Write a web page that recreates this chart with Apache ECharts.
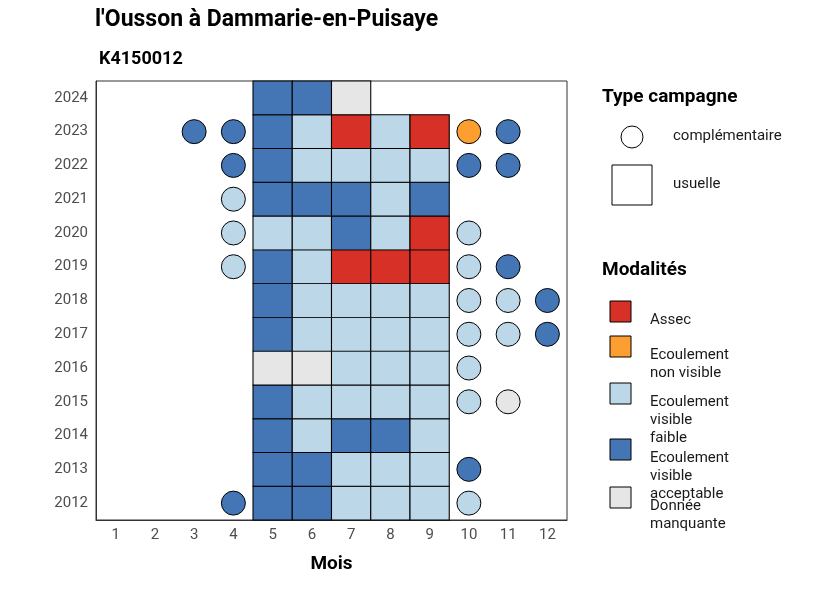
<!DOCTYPE html>
<html><head><meta charset="utf-8">
<script src="https://cdn.jsdelivr.net/npm/echarts@6/dist/echarts.min.js"></script>
<style>html,body{margin:0;background:#fff}#c{width:826px;height:590px}</style>
</head><body><div id="c"></div>
<script>
var months = ['1','2','3','4','5','6','7','8','9','10','11','12'];
var years = ['2012','2013','2014','2015','2016','2017','2018','2019','2020','2021','2022','2023','2024'];
// codes: S = Assec, N = Ecoulement non visible, F = faible, A = acceptable, M = manquante
// campagne usuelle, months 5..9, one row per year (2012 -> 2024)
var usuelleRows = [
    ['A','A','F','F','F'],
    ['A','A','F','F','F'],
    ['A','F','A','A','F'],
    ['A','F','F','F','F'],
    ['M','M','F','F','F'],
    ['A','F','F','F','F'],
    ['A','F','F','F','F'],
    ['A','F','S','S','S'],
    ['F','F','A','F','S'],
    ['A','A','A','F','A'],
    ['A','F','F','F','F'],
    ['A','F','S','F','S'],
    ['A','A','M',null,null]
];
// campagne complémentaire: [month, year, code]
var complementaire = [
    [4,2012,'A'],[10,2012,'F'],
    [10,2013,'A'],
    [10,2015,'F'],[11,2015,'M'],
    [10,2016,'F'],
    [10,2017,'F'],[11,2017,'F'],[12,2017,'A'],
    [10,2018,'F'],[11,2018,'F'],[12,2018,'A'],
    [4,2019,'F'],[10,2019,'F'],[11,2019,'A'],
    [4,2020,'F'],[10,2020,'F'],
    [4,2021,'F'],
    [4,2022,'A'],[10,2022,'A'],[11,2022,'A'],
    [3,2023,'A'],[4,2023,'A'],[10,2023,'N'],[11,2023,'A']
];
var modalites = ['Assec', 'Ecoulement\nnon visible', 'Ecoulement\nvisible\nfaible', 'Ecoulement\nvisible\nacceptable', 'Donnée\nmanquante'];
var codes = ['S','N','F','A','M'];
var colors = {S:'#d73027', N:'#fd9f30', F:'#bcd7e8', A:'#4475b5', M:'#e6e6e6'};

var tiles = [];
usuelleRows.forEach(function (row, i) {
    row.forEach(function (c, j) {
        if (c) tiles.push({value:[String(j + 5), years[i]], itemStyle:{color:colors[c]}});
    });
});
var dots = complementaire.map(function (d) {
    return {value:[String(d[0]), String(d[1])], itemStyle:{color:colors[d[2]]}};
});

var cw = 471 / 12, ch = 439 / 13;
var graphics = [
    {type:'text', left:602, top:88, style:{text:'Type campagne', font:'bold 19px Roboto', fill:'#000'}},
    {type:'circle', shape:{cx:632, cy:137, r:11}, style:{fill:'#fff', stroke:'#000', lineWidth:1}},
    {type:'text', left:673, top:129, style:{text:'complémentaire', font:'15px Roboto', fill:'#1a1a1a'}},
    {type:'rect', shape:{x:612, y:165, width:40, height:40}, style:{fill:'#fff', stroke:'#000', lineWidth:1}},
    {type:'text', left:673, top:177, style:{text:'usuelle', font:'15px Roboto', fill:'#1a1a1a'}},
    {type:'text', left:602, top:261, style:{text:'Modalités', font:'bold 19px Roboto', fill:'#000'}}
];
var ys = [311, 346, 393, 449, 497];
codes.forEach(function (c, i) {
    graphics.push({type:'rect', shape:{x:610, y:ys[i] - 10, width:21, height:21}, style:{fill:colors[c], stroke:'#000', lineWidth:1}});
    graphics.push({type:'text', left:650, top:ys[i], style:{text:modalites[i], font:'15px Roboto', fill:'#1a1a1a', lineHeight:18, verticalAlign:'middle'}});
});

var chart = echarts.init(document.getElementById('c'));
chart.setOption({
    animation:false,
    title:[
        {text:"l'Ousson à Dammarie-en-Puisaye", left:90, top:4, textStyle:{fontFamily:'Roboto', fontSize:23, fontWeight:'bold', color:'#000'}},
        {text:'K4150012', left:94, top:45, textStyle:{fontFamily:'Roboto', fontSize:18, fontWeight:'bold', color:'#000'}}
    ],
    grid:{left:96, right:259, top:81, bottom:70, show:true, borderColor:'#333', borderWidth:1},
    xAxis:{type:'category', data:months, name:'Mois', nameLocation:'middle', nameGap:35,
        nameTextStyle:{fontFamily:'Roboto', fontSize:19, fontWeight:'bold', color:'#000'},
        axisLine:{lineStyle:{color:'#333'}}, axisTick:{alignWithLabel:true, length:4, lineStyle:{color:'#333'}},
        axisLabel:{fontFamily:'Roboto', fontSize:15, color:'#4d4d4d'}, splitLine:{show:false}},
    yAxis:{type:'category', data:years,
        axisLine:{lineStyle:{color:'#333'}}, axisTick:{alignWithLabel:true, length:4, lineStyle:{color:'#333'}},
        axisLabel:{fontFamily:'Roboto', fontSize:15, color:'#4d4d4d'}, splitLine:{show:false}},
    graphic:graphics,
    series:[
        {type:'scatter', symbol:'rect', symbolSize:[cw, ch], data:tiles, itemStyle:{borderColor:'#000', borderWidth:1, opacity:1}},
        {type:'scatter', symbol:'circle', symbolSize:24, data:dots, itemStyle:{borderColor:'#000', borderWidth:1, opacity:1}}
    ]
});
</script></body></html>
